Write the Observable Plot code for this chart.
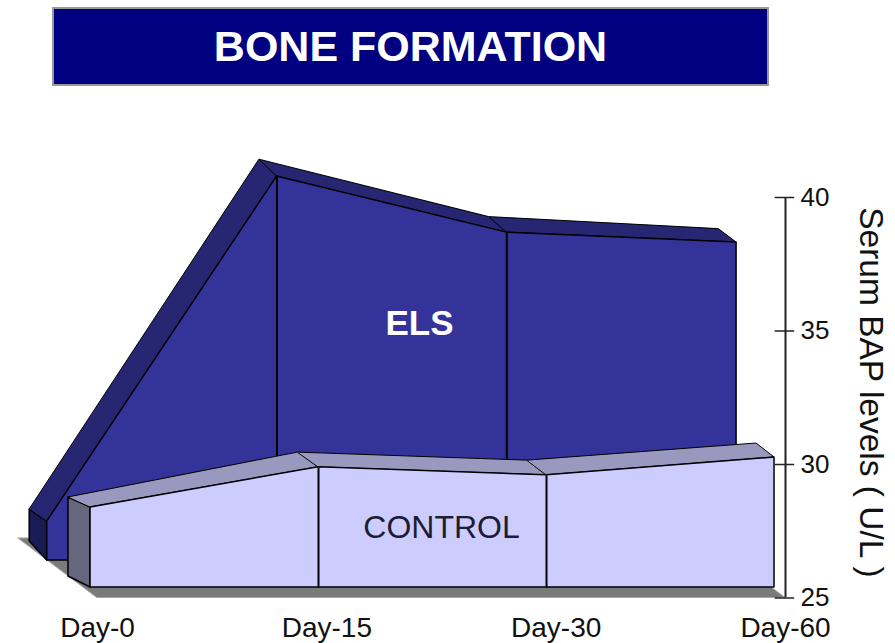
<!DOCTYPE html>
<html>
<head>
<meta charset="utf-8">
<script src="https://cdn.jsdelivr.net/npm/d3@7"></script>
<script src="https://cdn.jsdelivr.net/npm/@observablehq/plot@0.6"></script>
<style>
  html, body { margin: 0; padding: 0; background: #fff; }
  #wrap { position: relative; width: 895px; height: 643px; overflow: hidden; font-family: "Liberation Sans", Arial, sans-serif; }
  #banner { position: absolute; left: 52px; top: 7px; width: 713px; height: 75px; background: #000080; border: 2px solid #999;
    color: #fff; font: bold 43px "Liberation Sans", Arial, sans-serif; display: flex; align-items: center; justify-content: center; }
  svg { display: block; }
</style>
</head>
<body>
<div id="wrap"><div id="banner">BONE FORMATION</div><div id="chart"></div></div>
<script>
// Chart values, in serum BAP units (U/L)
const days = ["Day-0", "Day-15", "Day-30", "Day-60"];
const yTicks = [25, 30, 35, 40];
const elsFront = [26.46, 39.38, 37.28, 36.91];
const elsBack = [26.2, 39.3, 37.15, 36.7];
const controlFront = [28.0, 29.5, 29.2, 29.87];
const controlBack = [27.96, 29.64, 29.34, 29.98];

// Oblique depth of each plane, in data units: x = shift + stretch * index, y raised by rise
const depth = {
  elsBack: {shift: -0.2957, stretch: 1.0016, rise: 2.116},
  elsFront: {shift: -0.2193, stretch: 1.002, rise: 1.404},
  controlBack: {shift: -0.1265, stretch: 1.0, rise: 0.805},
  controlFront: {shift: -0.0305, stretch: 0.9942, rise: 0.393}
};
const base = 25;

const plane = (values, p) => values.map((v, i) => ({
  x: p.shift + p.stretch * i,
  top: v + p.rise,
  bottom: base + p.rise
}));
const ribbon = (f, b) => f.map((d, i) => ({x1: d.x, y1: d.top, x2: b[i].x, y2: b[i].top}));

const eF = plane(elsFront, depth.elsFront), eB = plane(elsBack, depth.elsBack);
const cF = plane(controlFront, depth.controlFront), cB = plane(controlBack, depth.controlBack);
const floor = [
  {x1: 0, y1: base, x2: -0.344, y2: base + 2.23},
  {x1: 3, y1: base, x2: 3 - 0.344, y2: base + 2.23}
];

const face = (rows, fill) => Plot.area(rows, {x1: "x", x2: "x", y1: "bottom", y2: "top", fill, stroke: "#000", strokeWidth: 1.5, strokeLinejoin: "round"});
const strip = (rows, fill) => Plot.area(rows, {x1: "x1", y1: "y1", x2: "x2", y2: "y2", fill, stroke: "#000", strokeWidth: 1});
const folds = (rows) => Plot.link(rows, {x1: "x1", y1: "y1", x2: "x2", y2: "y2", stroke: "#000", strokeWidth: 1});
const divider = (rows) => Plot.link(rows, {x1: "x", x2: "x", y1: "bottom", y2: "top", stroke: "#000", strokeWidth: 2});

const chart = Plot.plot({
  width: 895, height: 643,
  marginLeft: 97, marginRight: 110, marginTop: 197, marginBottom: 45.5,
  style: {background: "transparent", color: "#000", fontFamily: "'Liberation Sans', Arial, sans-serif"},
  x: {type: "linear", domain: [0, 3]},
  y: {type: "linear", domain: [25, 40]},
  marks: [
    Plot.area(floor, {x1: "x1", y1: "y1", x2: "x2", y2: "y2", fill: "#7a7a7a", stroke: "#a8a8a8", strokeWidth: 1}),
    face([eB[0], eF[0]], "#1a1a55"),
    strip(ribbon(eF, eB), "#262673"),
    folds(ribbon(eF, eB).slice(1, 3)),
    face(eF, "#333399"),
    divider(eF.slice(1, 3)),
    face([cB[0], cF[0]], "#66667f"),
    strip(ribbon(cF, cB), "#9999bf"),
    folds(ribbon(cF, cB).slice(1, 3)),
    face(cF, "#ccccff"),
    divider(cF.slice(1, 3)),
    Plot.ruleX([3], {y1: 25, y2: 40, stroke: "#222", strokeWidth: 2}),
    Plot.ruleY(yTicks, {x1: 2.955, x2: 3.04, stroke: "#222", strokeWidth: 1.5}),
    Plot.axisY({anchor: "right", ticks: yTicks, tickSize: 0, tickPadding: 15, fontSize: 26, label: null, fill: "#111"}),
    Plot.axisX({anchor: "bottom", ticks: [0, 1, 2, 3], tickFormat: (i) => days[i], tickSize: 0, tickPadding: 19, fontSize: 28, label: null, fill: "#111"}),
    Plot.text(["ELS"], {x: 1.404, y: 35.28, fill: "#fff", fontSize: 35, fontWeight: "bold"}),
    Plot.text(["CONTROL"], {x: 1.5, y: 27.64, fill: "#1c1c33", fontSize: 32}),
    Plot.text(["Serum BAP levels ( U/L )"], {x: 3.37, y: 32.7, rotate: 90, fill: "#111", fontSize: 33.5})
  ]
});
document.getElementById("chart").appendChild(chart);
</script>
</body>
</html>
